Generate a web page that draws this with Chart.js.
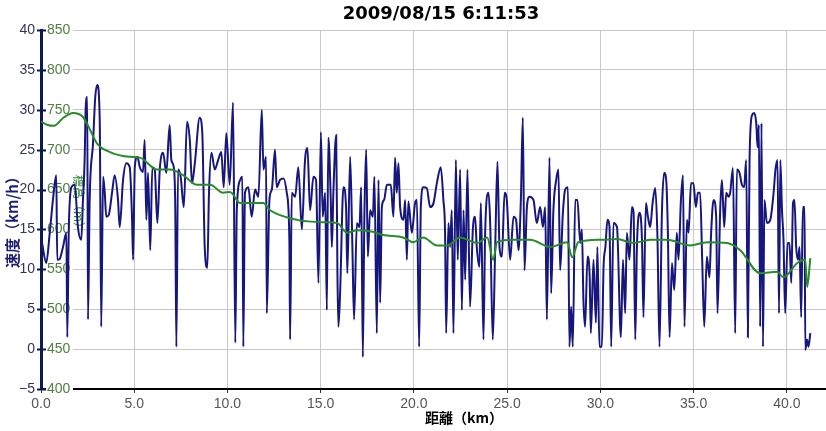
<!DOCTYPE html>
<html>
<head>
<meta charset="utf-8">
<script src="https://cdn.jsdelivr.net/npm/chart.js@4.4.0/dist/chart.umd.min.js"></script>
<style>
  html, body { margin: 0; padding: 0; background: #fff; }
</style>
</head>
<body>
<canvas id="grafico" width="826" height="431"></canvas>
<script>
// ======== DADOS ========
const titulo = "2009/08/15 6:11:53";

// distância (km) e velocidade (km/h)
const distVel = [
  0.05, 0.28, 0.47, 0.64, 0.82, 0.87, 1.00, 1.18, 1.36, 1.41, 1.49, 1.63, 1.81, 1.98, 2.16, 2.25, 2.34, 2.40, 2.48, 2.52,
  2.61, 2.79, 2.91, 3.02, 3.15, 3.23, 3.33, 3.42, 3.50, 3.63, 3.81, 3.95, 4.13, 4.22, 4.40, 4.58, 4.76, 4.88, 4.94, 5.03,
  5.17, 5.30, 5.47, 5.56, 5.65, 5.74, 5.86, 5.97, 6.10, 6.24, 6.37, 6.55, 6.72, 6.90, 6.99, 7.12, 7.20, 7.26, 7.35, 7.49,
  7.66, 7.83, 7.98, 8.10, 8.25, 8.51, 8.65, 8.78, 8.92, 9.01, 9.14, 9.32, 9.50, 9.67, 9.80, 9.94, 10.12, 10.30, 10.42, 10.50,
  10.68, 10.80, 10.85, 10.94, 11.12, 11.30, 11.48, 11.66, 11.84, 11.93, 12.07, 12.11, 12.25, 12.38, 12.55, 12.64, 12.82, 13.00, 13.18, 13.32,
  13.36, 13.45, 13.63, 13.80, 13.99, 14.16, 14.29, 14.43, 14.61, 14.75, 14.88, 15.01, 15.11, 15.24, 15.33, 15.41, 15.54, 15.60, 15.68, 15.83,
  15.90, 15.95, 16.04, 16.22, 16.36, 16.43, 16.58, 16.70, 16.79, 16.94, 17.08, 17.17, 17.26, 17.34, 17.44, 17.53, 17.65, 17.80, 17.88, 18.01,
  18.10, 18.19, 18.28, 18.40, 18.55, 18.76, 18.90, 18.99, 19.08, 19.17, 19.26, 19.44, 19.53, 19.62, 19.70, 19.89, 20.06, 20.16, 20.28, 20.37,
  20.51, 20.69, 20.87, 21.05, 21.23, 21.44, 21.58, 21.67, 21.73, 21.85, 21.94, 22.03, 22.12, 22.25, 22.35, 22.48, 22.57, 22.66, 22.75, 22.87,
  23.01, 23.16, 23.28, 23.37, 23.51, 23.59, 23.73, 23.82, 24.00, 24.09, 24.23, 24.36, 24.48, 24.59, 24.72, 24.86, 24.98, 25.16, 25.34, 25.48,
  25.61, 25.74, 25.84, 25.93, 26.06, 26.20, 26.41, 26.59, 26.77, 26.92, 27.04, 27.13, 27.27, 27.36, 27.48, 27.63, 27.75, 27.84, 27.99, 28.11,
  28.26, 28.34, 28.43, 28.52, 28.65, 28.77, 28.92, 29.01, 29.09, 29.18, 29.31, 29.42, 29.49, 29.63, 29.76, 29.84, 29.95, 30.08, 30.17, 30.27,
  30.38, 30.49, 30.58, 30.70, 30.89, 31.10, 31.21, 31.33, 31.42, 31.56, 31.69, 31.78, 31.87, 31.96, 32.10, 32.23, 32.31, 32.44, 32.55, 32.67,
  32.80, 32.94, 33.06, 33.17, 33.30, 33.42, 33.53, 33.62, 33.71, 33.84, 33.96, 34.10, 34.19, 34.32, 34.43, 34.51, 34.64, 34.73, 34.86, 34.99,
  35.12, 35.23, 35.35, 35.46, 35.57, 35.71, 35.85, 35.94, 36.07, 36.21, 36.28, 36.43, 36.52, 36.64, 36.75, 36.87, 36.96, 37.11, 37.23, 37.32,
  37.46, 37.59, 37.71, 37.82, 37.91, 38.00, 38.13, 38.25, 38.36, 38.43, 38.50, 38.57, 38.64, 38.72, 38.80, 38.93, 39.11, 39.29, 39.39, 39.50,
  39.58, 39.65, 39.74, 39.82, 39.91, 40.04, 40.14, 40.24, 40.33, 40.41, 40.50, 40.60, 40.68, 40.77, 40.86, 40.95, 40.99, 41.08, 41.16, 41.26
];
const velocidade = [
  13.4, 10.8, 14.6, 18.7, 21.8, 11.2, 11.3, 12.8, 14.6, 1.5, 15.0, 20.3, 20.6, 15.3, 13.7, 18.7, 23.7, 30.4, 31.6, 3.7,
  18.7, 25.8, 31.6, 33.1, 28.7, 2.8, 21.6, 19.6, 16.6, 16.8, 19.6, 21.8, 18.7, 15.3, 21.2, 23.3, 22.8, 16.6, 11.2, 22.8,
  24.1, 22.8, 22.2, 26.2, 16.2, 22.1, 12.4, 22.8, 22.5, 15.8, 22.5, 24.6, 22.1, 28.1, 23.7, 22.8, 17.8, 0.3, 22.5, 21.6,
  17.8, 28.5, 26.2, 20.8, 23.3, 29.0, 27.1, 12.8, 10.2, 19.6, 24.6, 22.5, 23.7, 24.7, 20.3, 27.1, 20.6, 30.9, 0.8, 17.4,
  21.2, 21.6, 0.3, 19.6, 20.3, 16.6, 20.0, 19.1, 30.0, 22.5, 24.1, 4.5, 18.7, 20.0, 25.0, 20.3, 21.2, 21.4, 19.6, 13.7,
  1.2, 19.6, 19.1, 22.8, 15.0, 23.7, 25.2, 17.4, 21.6, 21.2, 8.3, 27.2, 16.6, 19.6, 4.9, 26.5, 18.7, 12.8, 19.6, 26.8,
  9.0, 2.8, 7.0, 20.3, 17.8, 9.5, 24.1, 12.8, 3.7, 15.8, 15.3, 20.3, -1.0, 16.2, 25.0, 11.6, 17.4, 16.6, 21.6, 2.0,
  21.2, 5.8, 17.8, 18.7, 20.6, 20.6, 16.6, 24.0, 19.6, 23.3, 17.8, 16.2, 18.7, 11.2, 18.5, 14.6, 18.3, 18.7, 0.3, 17.8,
  20.3, 20.2, 17.8, 18.3, 20.8, 22.8, 18.7, 14.6, 2.0, 15.8, 12.8, 17.4, 2.0, 23.7, 11.2, 22.5, 4.9, 17.4, 8.7, 22.5,
  5.3, 15.0, 16.6, 12.8, 10.3, 18.3, 1.2, 14.6, 19.6, 15.8, 1.2, 12.8, 23.5, 12.8, 11.6, 19.6, 18.7, 11.2, 16.6, 16.2,
  12.4, 19.1, 29.0, 9.9, 17.8, 19.1, 18.7, 15.8, 17.8, 15.3, 17.8, 3.7, 24.0, 7.0, 17.4, 21.2, 22.5, 9.9, 17.1, 20.0,
  20.3, 0.3, 5.3, 0.3, 18.7, 18.7, 13.3, 15.0, 6.2, 2.8, 11.6, 9.5, 2.0, 11.2, 3.3, 12.8, 0.3, 0.3, 10.3, 12.8,
  16.2, 15.3, 0.3, 15.8, 15.3, 1.5, 11.2, 4.5, 14.6, 11.2, 17.8, 17.1, 1.2, 12.8, 17.1, 13.7, 4.0, 18.3, 16.6, 15.3,
  18.3, 20.2, 14.1, 0.3, 17.1, 22.1, 21.2, 14.6, 1.5, 10.8, 7.4, 14.6, 11.2, 18.7, 21.8, 2.8, 16.2, 14.6, 20.8, 20.8,
  17.8, 19.6, 19.6, 11.2, 2.8, 11.6, 9.0, 14.6, 18.7, 16.6, 4.5, 17.8, 21.2, 15.3, 19.6, 19.1, 19.6, 22.7, 2.0, 22.5,
  22.1, 20.6, 20.3, 23.7, 1.5, 23.7, 29.3, 29.6, 28.3, 25.3, 28.1, 2.8, 28.3, 0.3, 18.7, 15.8, 16.2, 19.6, 22.5, 23.7,
  4.5, 23.7, 17.4, 13.7, 4.5, 13.3, 13.3, 8.3, 18.3, 18.7, 12.8, 11.2, 12.8, 4.0, 17.8, 17.8, -0.1, 1.2, 0.3, 2.0
];

// distância (km) e altitude (m)
const distAlt = [
  0, 0.35, 0.70, 1.20, 1.72, 2.25, 2.63, 3.00, 3.70, 4.77, 5.31, 6.22, 6.92, 7.62, 8.37, 9.07, 9.76, 10.14, 10.68, 11.91,
  12.29, 13.73, 15.13, 15.88, 16.42, 16.95, 17.81, 18.35, 19.42, 19.96, 20.49, 21.24, 21.78, 22.48, 23.39, 23.93, 24.25, 24.46, 25.32, 26.23,
  27.31, 28.22, 28.49, 28.81, 29.99, 30.90, 31.76, 32.67, 33.58, 34.82, 35.73, 36.80, 37.50, 38.57, 39.48, 39.81, 40.56, 40.99, 41.09, 41.26
];
const altitude = [
  735, 731, 730, 740, 746, 741, 725, 708, 697, 691, 690, 675, 675, 668, 656, 656, 646, 647, 633, 633,
  624, 612, 609, 608, 596, 599, 597, 593, 590, 584, 590, 580, 580, 590, 583, 590, 562, 584, 587, 587,
  578, 584, 565, 584, 587, 588, 583, 587, 587, 580, 584, 583, 574, 545, 547, 540, 558, 562, 528, 564
];

const ticksAlt = [400, 450, 500, 550, 600, 650, 700, 750, 800, 850];

const azul = "#16167c";
const verde = "#2a8a2a";

// ======== PLUGIN DE TEXTOS ========
const textos = {
    id: "textos",
    beforeDatasetsDraw(chart) {
        const { ctx, scales: { y2 } } = chart;
        ctx.save();
        // rótulos do eixo de altitude (dentro do gráfico, com fundo branco)
        ctx.font = "14px 'Liberation Sans', Arial, sans-serif";
        ctx.textAlign = "left";
        ctx.textBaseline = "middle";
        ticksAlt.forEach(v => {
            const py = y2.getPixelForValue(v);
            ctx.fillStyle = "#fff";
            ctx.fillRect(46, py - 7, 27, 14);
            ctx.fillStyle = "#4f7f40";
            ctx.fillText(String(v), 47, py);
        });
        // título do eixo de altitude
        ctx.translate(79, 175);
        ctx.rotate(Math.PI / 2);
        ctx.font = "12px 'Noto Sans CJK JP', sans-serif";
        ctx.fillStyle = verde;
        ctx.fillText("標高（m）", 0, 0);
        ctx.restore();
    },
    afterDraw(chart) {
        const { ctx, scales: { y } } = chart;
        ctx.save();
        // marcas do eixo y cruzando a linha
        ctx.strokeStyle = "#0d1a50";
        ctx.lineWidth = 2;
        y.ticks.forEach(t => {
            const py = Math.round(y.getPixelForValue(t.value)) + 0.5;
            ctx.beginPath();
            ctx.moveTo(37, py);
            ctx.lineTo(46, py);
            ctx.stroke();
        });
        // título
        ctx.fillStyle = "#000";
        ctx.font = "bold 18px 'DejaVu Sans', sans-serif";
        ctx.textAlign = "center";
        ctx.textBaseline = "middle";
        ctx.fillText(titulo, 441, 14);
        // título do eixo x
        ctx.font = "bold 14px 'Noto Sans CJK JP', sans-serif";
        ctx.textAlign = "left";
        ctx.fillText("距離（km）", 425, 418);
        // título do eixo y
        ctx.translate(12, 268);
        ctx.rotate(-Math.PI / 2);
        ctx.fillStyle = "#1c1c70";
        ctx.font = "bold 15px 'Noto Sans CJK JP', sans-serif";
        ctx.fillText("速度（km/h）", 0, 0);
        ctx.restore();
    }
};

// ======== GRÁFICO ========
const ctx = document.getElementById("grafico").getContext("2d");
new Chart(ctx, {
    type: "line",
    data: {
        datasets: [
            {
                label: "速度",
                data: distVel.map((d, i) => ({ x: d, y: velocidade[i] })),
                borderColor: azul,
                borderWidth: 2,
                pointRadius: 0,
                cubicInterpolationMode: "monotone",
                yAxisID: "y",
                order: 1
            },
            {
                label: "標高",
                data: distAlt.map((d, i) => ({ x: d, y: altitude[i] })),
                borderColor: verde,
                borderWidth: 2,
                pointRadius: 0,
                cubicInterpolationMode: "monotone",
                yAxisID: "y2",
                order: 0
            }
        ]
    },
    options: {
        responsive: false,
        animation: false,
        layout: { padding: { top: 30, left: 0, right: 0, bottom: 0 } },
        plugins: {
            legend: { display: false },
            title: { display: false },
            tooltip: { enabled: false }
        },
        scales: {
            x: {
                type: "linear",
                min: 0,
                max: 42.1,
                afterFit: s => { s.height = 42; },
                ticks: {
                    stepSize: 5,
                    includeBounds: false,
                    maxRotation: 0,
                    padding: 3,
                    color: "#555",
                    font: { family: "'Liberation Sans', Arial, sans-serif", size: 14 },
                    callback: v => v.toFixed(1)
                },
                grid: { color: "#c8c8c8", tickLength: 4, tickColor: "#333" },
                border: { color: "#000", width: 2 }
            },
            y: {
                position: "left",
                min: -5,
                max: 40,
                afterFit: s => { s.width = 41; },
                ticks: {
                    stepSize: 5,
                    padding: 6,
                    color: "#34345a",
                    font: { family: "'Liberation Sans', Arial, sans-serif", size: 14 },
                    callback: v => (v < 0 ? "\u2212" + (-v) : String(v))
                },
                grid: { color: "#c8c8c8", drawTicks: false },
                border: { color: "#0d1a50", width: 3 }
            },
            y2: {
                position: "right",
                display: false,
                min: 400,
                max: 850
            }
        }
    },
    plugins: [textos]
});
</script>
</body>
</html>
